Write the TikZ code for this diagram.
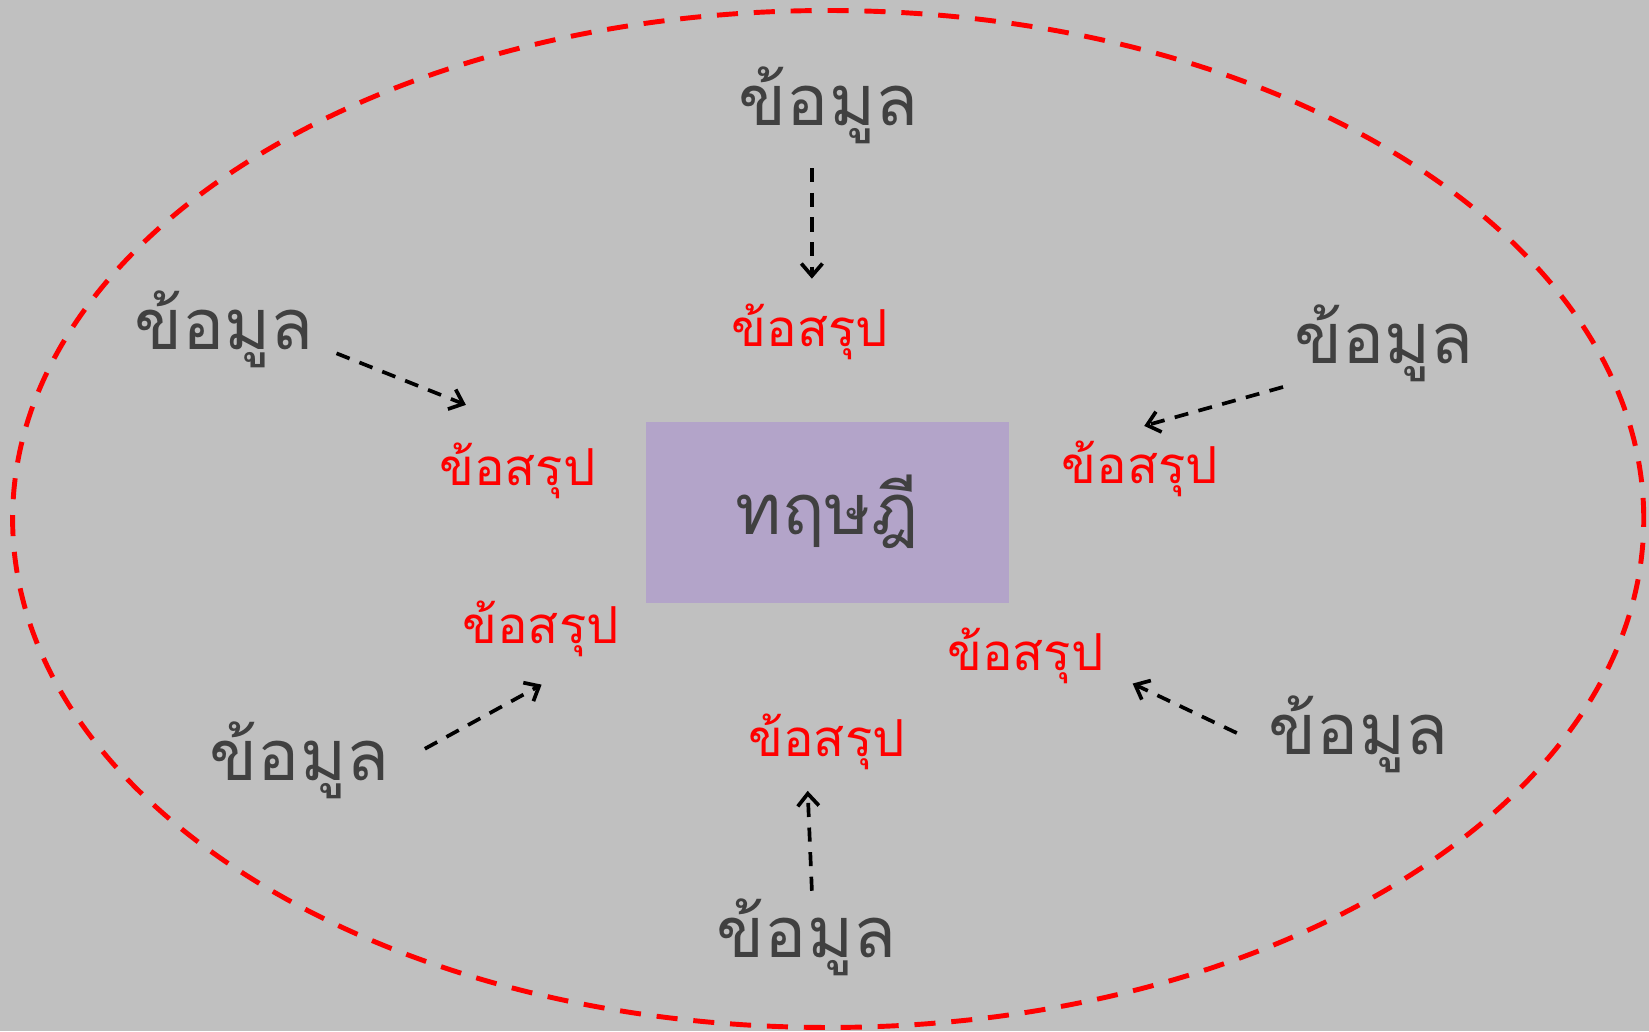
\documentclass[tikz,border=0pt]{standalone}
\usepackage{fontspec}
\newfontfamily\thaifont[Script=Thai]{Loma}
\usetikzlibrary{arrows.meta}
\definecolor{bggray}{HTML}{C0C0C0}
\definecolor{textgray}{HTML}{404040}
\definecolor{boxviolet}{HTML}{B3A4C9}
\begin{document}
\begin{tikzpicture}[
		x=0.021034cm, y=-0.021034cm,
		every node/.style={inner sep=0pt, font=\thaifont},
		datum/.style={text=textgray, font=\thaifont\fontsize{40}{44}\selectfont},
		result/.style={text=red, font=\thaifont\fontsize{29}{32}\selectfont},
		infer/.style={line width=2.1pt, dash pattern=on 8pt off 6pt,
			-{Straight Barb[length=7pt, width=12pt, line width=2.1pt]}}
	]
  \useasboundingbox [fill=bggray] (0,0) rectangle (1568,980.4);
  \draw [red, line width=2.8pt, dash pattern=on 12pt off 9pt]
    (787.5,493.5) ellipse [x radius=775.5, y radius=-483.5];
  \node (theory) [fill=boxviolet, minimum width=7.257cm, minimum height=3.618cm,
    text=textgray, font=\thaifont\fontsize{40}{44}\selectfont] at (786.5,487) {ทฤษฎี};
  % data and conclusions
  \node (d_top) [datum] at (788,100) {ข้อมูล};
  \node (c_top) [result] at (770,316) {ข้อสรุป};
  \node (d_ul) [datum] at (213,313) {ข้อมูล};
  \node (c_l) [result] at (492,448) {ข้อสรุป};
  \node (d_ur) [datum] at (1316,326) {ข้อมูล};
  \node (c_r) [result] at (1084,446) {ข้อสรุป};
  \node (d_ll) [datum] at (285,723) {ข้อมูล};
  \node (c_ll) [result] at (514,598) {ข้อสรุป};
  \node (d_lr) [datum] at (1292,698) {ข้อมูล};
  \node (c_lr) [result] at (975,624) {ข้อสรุป};
  \node (d_bot) [datum] at (767,891) {ข้อมูล};
  \node (c_bot) [result] at (786,705) {ข้อสรุป};
  % arrow ends
  \coordinate (top_s) at (772,160);  \coordinate (top_e) at (772,265);
  \coordinate (ul_s) at (320,336);   \coordinate (ul_e) at (443,385);
  \coordinate (ur_s) at (1220,368);  \coordinate (ur_e) at (1088,405);
  \coordinate (ll_s) at (404,712);   \coordinate (ll_e) at (515,651);
  \coordinate (lr_s) at (1176,697);  \coordinate (lr_e) at (1077,650);
  \coordinate (bot_s) at (772,847);  \coordinate (bot_e) at (768,752);
  \foreach \a in {top, ul, ur, ll, lr, bot}
    \draw [infer] (\a_s) -- (\a_e);
\end{tikzpicture}
\end{document}
